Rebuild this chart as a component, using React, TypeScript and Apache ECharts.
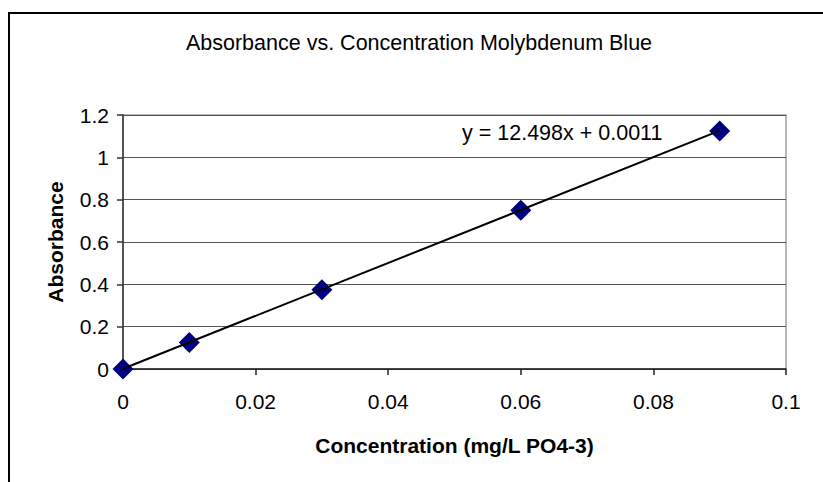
import React, { useEffect, useRef } from "react";
import * as echarts from "echarts";

const concentration = [0, 0.01, 0.03, 0.06, 0.09];
const absorbance = [0, 0.125, 0.375, 0.75, 1.125];
const trendSlope = 12.498;
const trendIntercept = 0.0011;
const trendRange = [0, 0.09];
const titleText = "Absorbance vs. Concentration Molybdenum Blue";
const xAxisName = "Concentration (mg/L PO4-3)";
const yAxisName = "Absorbance";
const equationText = "y = 12.498x + 0.0011";

const FONT = '"Liberation Sans", Arial, sans-serif';

export default function App() {
  const ref = useRef<HTMLDivElement>(null);
  useEffect(() => {
    if (!ref.current) return;
    const chart = echarts.init(ref.current, undefined, { renderer: "svg" });
    const points = concentration.map((c, i) => [c, absorbance[i]]);
    const trend = trendRange.map((x) => [x, trendSlope * x + trendIntercept]);
    chart.setOption({
      animation: false,
      backgroundColor: "#ffffff",
      textStyle: { fontFamily: FONT },
      grid: {
        left: 123,
        top: 115,
        right: 37,
        bottom: 113,
        show: true,
        borderColor: "#a0a0a0",
        borderWidth: 1.5,
        backgroundColor: "transparent",
      },
      graphic: [
        {
          type: "rect",
          shape: { x: 9, y: 13, width: 900, height: 600 },
          style: { fill: "none", stroke: "#000", lineWidth: 2 },
          silent: true,
        },
        {
          type: "text",
          x: 419,
          y: 43,
          style: {
            text: titleText,
            fontFamily: FONT,
            fontSize: 21.5,
            fill: "#000",
            textAlign: "center",
            textVerticalAlign: "middle",
          },
        },
        {
          type: "text",
          x: 462,
          y: 133,
          z: 10,
          style: {
            text: equationText,
            fontFamily: FONT,
            fontSize: 21.5,
            fill: "#000",
            textAlign: "left",
            textVerticalAlign: "middle",
          },
        },
      ],
      xAxis: {
        type: "value",
        min: 0,
        max: 0.1,
        interval: 0.02,
        name: xAxisName,
        nameLocation: "middle",
        nameGap: 66,
        nameTextStyle: { fontFamily: FONT, fontSize: 21, fontWeight: "bold", color: "#000" },
        axisLine: { show: true, onZero: false, lineStyle: { color: "#222", width: 1.5 } },
        axisTick: { show: true, inside: false, length: 6, lineStyle: { color: "#222", width: 1.5 } },
        axisLabel: { margin: 22, fontFamily: FONT, fontSize: 21, color: "#000" },
        splitLine: { show: false },
      },
      yAxis: {
        type: "value",
        min: 0,
        max: 1.2,
        interval: 0.2,
        name: yAxisName,
        nameLocation: "middle",
        nameGap: 57,
        nameTextStyle: { fontFamily: FONT, fontSize: 21, fontWeight: "bold", color: "#000" },
        axisLine: { show: true, onZero: false, lineStyle: { color: "#333", width: 1.5 } },
        axisTick: { show: true, inside: false, length: 6, lineStyle: { color: "#333", width: 1.5 } },
        axisLabel: { margin: 14, fontFamily: FONT, fontSize: 21, color: "#000" },
        splitLine: { show: true, lineStyle: { color: "#555", width: 1 } },
      },
      series: [
        {
          name: "Trendline",
          type: "line",
          data: trend,
          showSymbol: false,
          symbol: "none",
          lineStyle: { color: "#000", width: 2 },
          z: 3,
          silent: true,
        },
        {
          name: "Data",
          type: "scatter",
          data: points,
          symbol: "diamond",
          symbolSize: 21,
          itemStyle: { color: "#000080", opacity: 1 },
          z: 2,
        },
      ],
    });
    return () => chart.dispose();
  }, []);
  return (
    <div
      ref={ref}
      style={{ position: "absolute", left: 0, top: 0, width: 823, height: 482 }}
    />
  );
}
